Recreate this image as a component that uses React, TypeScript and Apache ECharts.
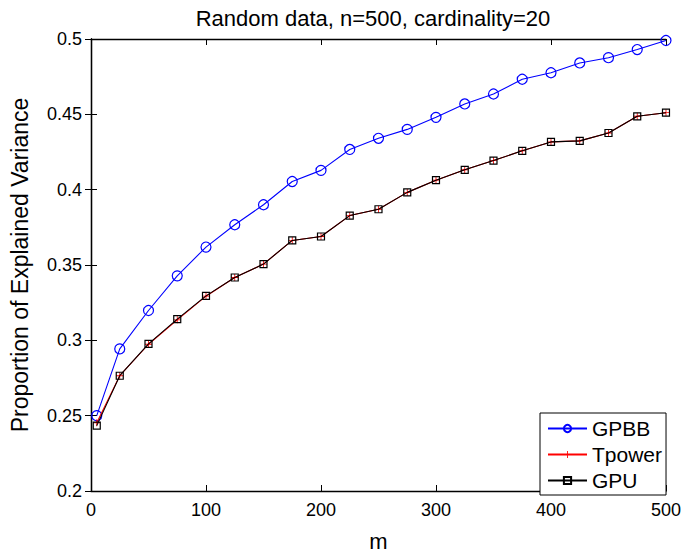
import React, { useEffect, useRef } from "react";
import * as echarts from "echarts";

const titleText = "Random data, n=500, cardinality=20";
const xName = "m";
const yName = "Proportion of Explained Variance";
const seriesNames = ["GPBB", "Tpower", "GPU"];

const mValues = [5, 25, 50, 75, 100, 125, 150, 175, 200, 225, 250, 275, 300, 325, 350, 375, 400, 425, 450, 475, 500];
const gpbb = [0.250, 0.2943, 0.3198, 0.3428, 0.3619, 0.3767, 0.3900, 0.4054, 0.4128, 0.4267, 0.4341, 0.4400, 0.4480, 0.4569, 0.4635, 0.4733, 0.4776, 0.4841, 0.4876, 0.4930, 0.4990];
const tpower = [0.2453, 0.2765, 0.2974, 0.3136, 0.3293, 0.3417, 0.3506, 0.3663, 0.3689, 0.3828, 0.3870, 0.3982, 0.4063, 0.4132, 0.4193, 0.4258, 0.4317, 0.4324, 0.4376, 0.4487, 0.4511];
const gpu = [0.2434, 0.2765, 0.2976, 0.3141, 0.3295, 0.3417, 0.3506, 0.3663, 0.3689, 0.3828, 0.3870, 0.3982, 0.4063, 0.4132, 0.4193, 0.4258, 0.4317, 0.4324, 0.4376, 0.4487, 0.4511];

const FONT = "'Liberation Sans', Arial, Helvetica, sans-serif";
const crossPath = "path://M-0.12,-1H0.12V-0.12H1V0.12H0.12V1H-0.12V0.12H-1V-0.12H-0.12Z";

export default function App() {
  const ref = useRef<HTMLDivElement>(null);
  useEffect(() => {
    if (!ref.current) return;
    const chart = echarts.init(ref.current, undefined, { renderer: "svg" });
    const toPairs = (vals: number[]) => mValues.map((m, i) => [m, vals[i]]);
    const tickCommon = { show: true, inside: true, length: 6, lineStyle: { color: "#000", width: 1 } };
    chart.setOption({
      animation: false,
      backgroundColor: "#fff",
      title: {
        text: titleText,
        left: 368,
        textAlign: "center",
        top: 2,
        textStyle: { fontFamily: FONT, fontSize: 22, fontWeight: "normal", color: "#000" },
      },
      grid: { left: 86, right: 13, top: 39, bottom: 58, containLabel: false },
      legend: {
        orient: "vertical",
        left: 540,
        top: 413,
        data: seriesNames,
        backgroundColor: "#fff",
        borderColor: "#000",
        borderWidth: 1,
        borderRadius: 0,
        padding: [5, 4, 4, 7],
        itemWidth: 39,
        itemHeight: 9,
        itemGap: 5,
        textStyle: { fontFamily: FONT, fontSize: 21, color: "#000", lineHeight: 20 },
        selectedMode: false,
      },
      xAxis: [
        {
          type: "value",
          min: 0,
          max: 500,
          interval: 100,
          name: xName,
          nameLocation: "middle",
          nameGap: 39,
          nameTextStyle: { fontFamily: FONT, fontSize: 22, color: "#000" },
          axisLine: { show: true, lineStyle: { color: "#000", width: 1.3 } },
          axisTick: tickCommon,
          axisLabel: { fontFamily: FONT, fontSize: 18, color: "#000", margin: 10 },
          splitLine: { show: false },
        },
        {
          type: "value",
          position: "top",
          min: 0,
          max: 500,
          interval: 100,
          axisLine: { show: true, lineStyle: { color: "#000", width: 1.3 } },
          axisTick: tickCommon,
          axisLabel: { show: false },
          splitLine: { show: false },
        },
      ],
      yAxis: [
        {
          type: "value",
          min: 0.2,
          max: 0.5,
          interval: 0.05,
          name: yName,
          nameLocation: "middle",
          nameGap: 60,
          nameTextStyle: { fontFamily: FONT, fontSize: 23, color: "#000" },
          axisLine: { show: true, lineStyle: { color: "#000", width: 1.3 } },
          axisTick: tickCommon,
          axisLabel: {
            fontFamily: FONT,
            fontSize: 18,
            color: "#000",
            margin: 9,
            formatter: (v: number) => String(+v.toFixed(2)),
          },
          splitLine: { show: false },
        },
        {
          type: "value",
          position: "right",
          min: 0.2,
          max: 0.5,
          interval: 0.05,
          axisLine: { show: true, lineStyle: { color: "#000", width: 1.3 } },
          axisTick: tickCommon,
          axisLabel: { show: false },
          splitLine: { show: false },
        },
      ],
      series: [
        {
          name: seriesNames[0],
          type: "line",
          data: toPairs(gpbb),
          symbol: "circle",
          symbolSize: 10,
          showAllSymbol: true,
          itemStyle: { color: "transparent", borderColor: "#0000ff", borderWidth: 1.2 },
          lineStyle: { color: "#0000ff", width: 1.1 },
          emphasis: { disabled: true },
          z: 2,
        },
        {
          name: seriesNames[1],
          type: "line",
          data: toPairs(tpower),
          symbol: crossPath,
          symbolSize: 7,
          showAllSymbol: true,
          itemStyle: { color: "#ff0000", borderWidth: 0 },
          lineStyle: { color: "#ff0000", width: 1.1 },
          emphasis: { disabled: true },
          z: 3,
        },
        {
          name: seriesNames[2],
          type: "line",
          data: toPairs(gpu),
          symbol: "rect",
          symbolSize: 7,
          showAllSymbol: true,
          itemStyle: { color: "transparent", borderColor: "#000", borderWidth: 1.2 },
          lineStyle: { color: "#000", width: 1.1 },
          emphasis: { disabled: true },
          z: 4,
        },
      ],
    });
    return () => chart.dispose();
  }, []);
  return <div ref={ref} style={{ width: 684, height: 557, position: "absolute", left: 0, top: 0 }} />;
}
